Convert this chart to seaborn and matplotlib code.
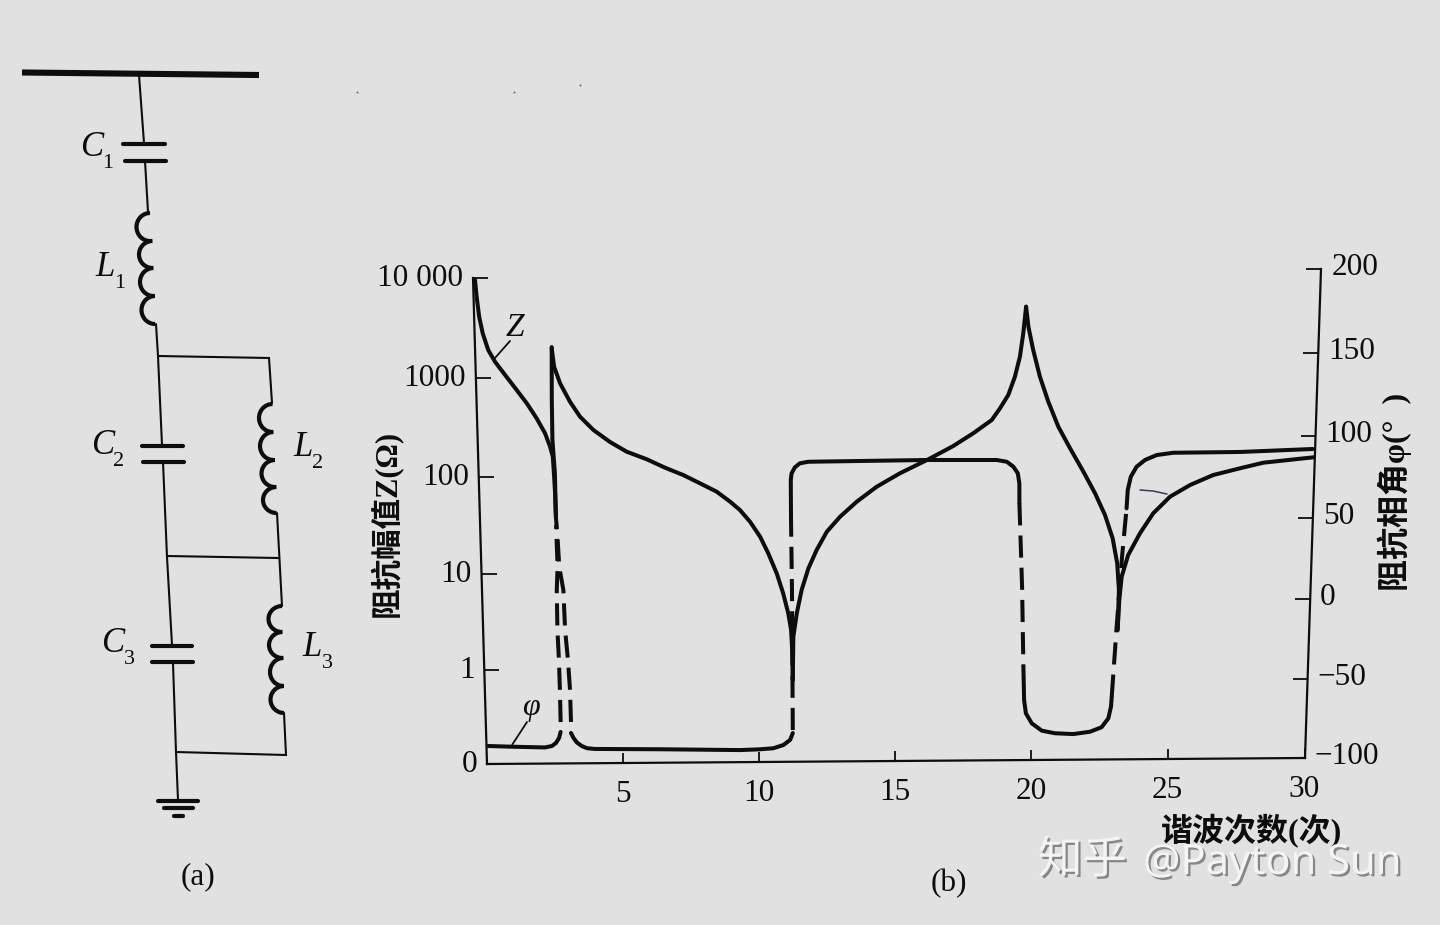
import matplotlib
matplotlib.use("Agg")
import matplotlib.patheffects as pe
import matplotlib.pyplot as plt
import matplotlib.transforms as mtransforms
import numpy as np
import seaborn as sns
from matplotlib.patches import Arc
from matplotlib.ticker import NullLocator

# impedance magnitude Z, one list per branch between the resonances
z1_x = [0.07, 0.11, 0.18, 0.29, 0.47, 0.70, 1.05, 1.45, 1.80, 2.14, 2.43, 2.60, 2.69, 2.72, 2.74, 2.75]
z1_y = [9549, 6514, 4114, 2806, 1907, 1453, 1065, 750.3, 549.6, 386.7, 272, 198.6, 157, 98.15, 66.86, 38.2]
z2_x = [2.74, 2.81, 3.01, 3.35, 3.70, 4.17, 4.76, 5.35, 6.07, 6.72, 7.37, 7.97, 8.57, 9.05, 9.40, 9.76,
        10.12, 10.41, 10.71, 10.94, 11.12, 11.22, 11.26, 11.27]
z2_y = [1967, 1277, 867.9, 564.8, 397.5, 290.6, 218.7, 173.7, 144.7, 118.4, 99.31, 81.42, 66.57, 52.45,
        43.03, 32.57, 22.79, 15.34, 9.519, 5.899, 3.652, 2.445, 1.405, 0.7321]
z3_x = [11.27, 11.30, 11.43, 11.61, 11.86, 12.16, 12.53, 13.01, 13.61, 14.33, 15.16, 16.18, 17.07, 17.78,
        18.44, 18.73, 19.02, 19.25, 19.42, 19.53, 19.62]
z3_y = [0.7321, 2.08, 3.646, 6.359, 10.65, 16.43, 25.3, 35.96, 51.05, 72.34, 98.59, 136, 184.6, 247.2,
        335.6, 439.6, 597.4, 911, 1444, 2471, 4544]
z4_x = [19.62, 19.71, 19.89, 20.14, 20.45, 20.82, 21.25, 21.74, 22.17, 22.54, 22.83, 23.01, 23.09, 23.07]
z4_y = [4544, 2872, 1679, 905.8, 506.8, 282.9, 170.5, 98.37, 59.11, 35.39, 20.38, 11.26, 5.964, 2.293]
z5_x = [23.07, 23.11, 23.18, 23.40, 23.81, 24.27, 24.86, 25.57, 26.39, 27.34, 28.17, 29.06, 29.95]
z5_y = [2.293, 4.698, 8.181, 13.68, 22.81, 36.46, 53.7, 70.37, 88.52, 103, 116.8, 123.7, 131]

# impedance angle, solid and dashed pieces
phi_a_x = [0.06, 0.98, 2.15, 2.41, 2.56, 2.68, 2.74]
phi_a_y = [-88.5, -89.1, -89.7, -88.8, -86.9, -83.7, -79.9]
phi_b_x = [2.75, 2.75, 2.74, 2.71, 2.72, 2.77, 2.76, 2.75]
phi_b_y = [-73.6, -53.3, -34.4, -15.5, 9.5, 23.8, 36.2, 49.8]
phi_c_x = [3.13, 3.12, 3.07, 2.99, 2.96, 2.83, 2.79, 2.75]
phi_c_y = [-73.6, -53.3, -34.4, -15.5, 9.5, 23.8, 43.6, 54.7]
phi_d_x = [2.75, 2.75, 2.69, 2.70, 2.74]
phi_d_y = [54.7, 81.8, 101.9, 126.3, 158.2]
phi_e_x = [3.12, 3.21, 3.33, 3.51, 3.70, 3.99, 6.38, 9.32, 10.05, 10.54, 10.91, 11.16, 11.26]
phi_e_y = [-80.6, -83.8, -86.7, -89.0, -90.4, -90.9, -91.4, -92.3, -91.9, -91.3, -89.3, -86.1, -81.7]
phi_f_x = [11.26, 11.26, 11.24]
phi_f_y = [-79.8, 8.3, 51.6]
phi_g_x = [11.24, 11.24, 11.27, 11.39, 11.57, 11.87, 16.12, 18.63, 18.99, 19.23, 19.39, 19.45, 19.46]
phi_g_y = [51.6, 76.2, 80.2, 83.9, 86.3, 87.2, 87.6, 87.2, 86.1, 83.0, 79.0, 72.8, 60.6]
phi_h_x = [19.46, 19.59, 19.67]
phi_h_y = [60.6, 8.9, -40.9]
phi_i_x = [19.67, 19.71, 19.78, 20.00, 20.37, 20.85, 21.52, 22.13, 22.55, 22.79, 22.88, 22.90]
phi_i_y = [-40.9, -61.9, -70.3, -76.7, -81.4, -83.1, -83.7, -82.3, -79.5, -73.9, -66.5, -60.2]
phi_j_x = [22.90, 23.04, 23.18, 23.31]
phi_j_y = [-60.2, -14.0, 27.0, 56.9]
phi_k_x = [23.31, 23.34, 23.44, 23.64, 23.94, 24.35, 24.94, 27.32, 29.92]
phi_k_y = [56.9, 68.1, 76.2, 82.3, 86.4, 89.3, 90.6, 90.7, 92.1]

x_ticks = [5, 10, 15, 20, 25, 30]
z_ticks = [0.1, 1, 10, 100, 1000, 10000]
z_labels = ["0", "1", "10", "100", "1000", "10 000"]
phi_ticks = [-100, -50, 0, 50, 100, 150, 200]
phi_labels = ["\u2212100", "\u221250", "0", "50", "100", "150", "200"]

# circuit (a), figure pixels
wires = [
    [(139, 75), (144, 143)], [(145, 161), (148, 212)], [(156, 324), (158, 356), (162, 445)],
    [(158, 356), (269, 358), (272, 403)], [(163, 462), (167, 557), (172, 645)],
    [(167, 556), (278, 558)], [(277, 513), (282, 606)], [(173, 663), (176, 752), (178, 800)],
    [(284, 713), (286, 755), (176, 752)],
]
plates = [
    [(123, 144), (165, 144)], [(125, 161), (166, 161)], [(142, 446), (183, 446)], [(143, 462), (184, 462)],
    [(152, 646), (192, 646)], [(152, 662), (193, 662)], [(158, 801), (198, 801)], [(164, 808), (193, 808)],
    [(174, 816), (183, 816)],
]
coils = [
    [(148, 213), (152, 241), (153, 268), (154, 296), (156, 324)],
    [(272, 404), (273, 432), (274, 460), (276, 487), (277, 513)],
    [(282, 606), (282, 632), (283, 658), (284, 686), (284, 713)],
]
parts = [
    ("C", "1", 92, 147, 108, 163), ("L", "1", 105, 267, 120, 283),
    ("C", "2", 103, 445, 119, 462), ("L", "2", 303, 448, 318, 463),
    ("C", "3", 113, 643, 129, 659), ("L", "3", 312, 648, 327, 663),
]
specks = [(357, 92), (514, 92), (580, 85)]

W, H = 1440, 925
BG = "#e1e1e1"
INK = "#0d0d0d"
CJK = ["Noto Sans CJK SC", "DejaVu Sans"]
LABEL_FONT = ["Liberation Serif", "Noto Sans CJK SC", "DejaVu Sans"]
# the printed plot is photographed at a slant, these are its corners in the picture
corners = [(487, 764), (1305, 758), (1321, 269), (473, 278)]
box = (487, 278, 1305, 764)


def homography(src, dst):
    A, b = [], []
    for (u, v), (x, y) in zip(src, dst):
        A.append([u, v, 1, 0, 0, 0, -u * x, -v * x])
        A.append([0, 0, 0, u, v, 1, -u * y, -v * y])
        b += [x, y]
    return np.append(np.linalg.solve(np.array(A, float), np.array(b, float)), 1).reshape(3, 3)


class Keystone(mtransforms.Transform):
    input_dims = 2
    output_dims = 2
    is_separable = False

    def __init__(self, matrix):
        super().__init__()
        self.matrix = matrix

    def transform_non_affine(self, values):
        p = np.column_stack([values, np.ones(len(values))]) @ self.matrix.T
        return p[:, :2] / p[:, 2:]


l, t, r, b = box
keystone = Keystone(homography(
    [(l, H - b), (r, H - b), (r, H - t), (l, H - t)],
    [(x, H - y) for x, y in corners],
))

sns.set_theme(style="white", rc={"figure.facecolor": BG, "axes.facecolor": BG, "text.color": INK,
                                 "axes.labelcolor": INK, "xtick.color": INK, "ytick.color": INK})
plt.rcParams["font.family"] = LABEL_FONT

fig = plt.figure(figsize=(W / 100, H / 100), dpi=100)
ax = fig.add_axes([l / W, 1 - b / H, (r - l) / W, (b - t) / H])
ax.set_yscale("log")
ax2 = ax.twinx()
ax.patch.set_visible(False)
ax2.patch.set_visible(False)


def curve(target, xs, ys, dashed=False):
    n = len(target.lines)
    sns.lineplot(x=xs, y=ys, sort=False, estimator=None, ax=target, color=INK, linewidth=2.9,
                 linestyle=(0, (5.5, 2.5)) if dashed else "-",
                 solid_capstyle="round", solid_joinstyle="round", dash_capstyle="butt")
    for line in target.lines[n:]:
        line.set_transform(line.get_transform() + keystone)
        line.set_clip_on(False)


for xs, ys in [(z1_x, z1_y), (z2_x, z2_y), (z3_x, z3_y), (z4_x, z4_y), (z5_x, z5_y)]:
    curve(ax, xs, ys)
for xs, ys in [(phi_a_x, phi_a_y), (phi_d_x, phi_d_y), (phi_e_x, phi_e_y), (phi_g_x, phi_g_y),
               (phi_i_x, phi_i_y), (phi_k_x, phi_k_y)]:
    curve(ax2, xs, ys)
for xs, ys in [(phi_b_x, phi_b_y), (phi_c_x, phi_c_y), (phi_f_x, phi_f_y), (phi_h_x, phi_h_y),
               (phi_j_x, phi_j_y)]:
    curve(ax2, xs, ys, dashed=True)

ax.set_xlim(0, 30)
ax.set_ylim(0.1, 10000)
ax2.set_ylim(-100, 200)
ax.set_xticks(x_ticks, [str(v) for v in x_ticks])
ax.set_yticks(z_ticks, z_labels)
ax.yaxis.set_minor_locator(NullLocator())
ax2.set_yticks(phi_ticks, phi_labels)

ax.tick_params(axis="x", direction="in", length=7.5, width=1.3, pad=13, labelsize=22.5, bottom=True)
ax.tick_params(axis="y", direction="in", length=11, width=1.3, pad=7, labelsize=22.5, left=True)
ax2.tick_params(axis="y", direction="in", length=11, width=1.3, pad=7, labelsize=22.5, right=True)

ax.set_xlabel("谐波次数(次)", fontsize=23, fontweight="bold", family=LABEL_FONT)
ax.xaxis.set_label_coords(0.935, -0.101)
ax.set_ylabel("阻抗幅值Z(Ω)", fontsize=22, fontweight="bold", family=LABEL_FONT)
ax.yaxis.set_label_coords(-0.103, 0.495)
ax2.set_ylabel("阻抗相角φ(°  )", fontsize=23, fontweight="bold", family=LABEL_FONT)
ax2.yaxis.set_label_coords(1.0893, 0.56)

for name, spine in ax.spines.items():
    spine.set_visible(name in ("left", "bottom"))
for name, spine in ax2.spines.items():
    spine.set_visible(name == "right")
for spine in [ax.spines["left"], ax.spines["bottom"], ax2.spines["right"]]:
    spine.set_position(("outward", 0))
    spine.set_color(INK)
    spine.set_linewidth(1.6)
    spine.set_transform(spine.get_transform() + keystone)

fig.canvas.draw()
for axis, lift in [(ax.xaxis, 0), (ax.yaxis, 3), (ax2.yaxis, 4.5)]:
    shift = mtransforms.Affine2D().translate(0, lift)
    for tick in axis.get_major_ticks():
        tick.tick1line.set_transform(tick.tick1line.get_transform() + keystone)
        tick.tick2line.set_transform(tick.tick2line.get_transform() + keystone)
        tick.label1.set_transform(tick.label1.get_transform() + keystone + shift)
        tick.label2.set_transform(tick.label2.get_transform() + keystone + shift)

# everything that sits on the page in pixel positions
ov = fig.add_axes([0, 0, 1, 1])
ov.set_xlim(0, W)
ov.set_ylim(H, 0)
ov.axis("off")
ov.plot([22, 259], [72.5, 75], color=INK, lw=4.4, solid_capstyle="butt")
for pts in wires:
    ov.plot(*zip(*pts), color=INK, lw=1.5, solid_joinstyle="miter")
for pts in plates:
    ov.plot(*zip(*pts), color=INK, lw=3, solid_capstyle="round")
for coil in coils:
    for (x0, y0), (x1, y1) in zip(coil[:-1], coil[1:]):
        ov.add_patch(Arc(((x0 + x1) / 2, (y0 + y1) / 2), 27, y1 - y0, theta1=90, theta2=270,
                         color=INK, lw=3))
for letter, sub, lx, ly, sx, sy in parts:
    ov.text(lx, ly, letter, fontsize=25, style="italic", ha="center", va="center")
    ov.text(sx, sy, sub, fontsize=16, ha="center", va="center")
ov.text(198, 877, "(a)", fontsize=22.5, ha="center", va="center")
ov.text(949, 884, "(b)", fontsize=22.5, ha="center", va="center")

ov.plot([510, 495], [341, 358], color=INK, lw=1.3)
ov.text(515, 328, "Z", fontsize=24, style="italic", ha="center", va="center")
ov.plot([527, 512], [722, 745], color=INK, lw=1.3)
ov.text(531, 708, "φ", fontsize=23, style="italic", ha="center", va="center")
ov.plot([1140, 1153, 1167], [490, 491, 494], color="#3c3c52", lw=1.1)
ov.plot(*zip(*specks), ls="none", marker="o", ms=1.4, color="#666666", mew=0)

shadow = [pe.withSimplePatchShadow(offset=(1.6, -1.6), shadow_rgbFace="#7d7d7d", alpha=0.9)]
ov.text(1038, 860, "知乎", fontsize=32, color="#f4f4f4", ha="left", va="center",
        family=CJK, path_effects=shadow)
ov.text(1143, 863, "@Payton Sun", fontsize=30, color="#f4f4f4", ha="left", va="center",
        family=["Noto Sans", "DejaVu Sans"], path_effects=shadow)

fig.savefig("out.png", dpi=100, facecolor=BG)
